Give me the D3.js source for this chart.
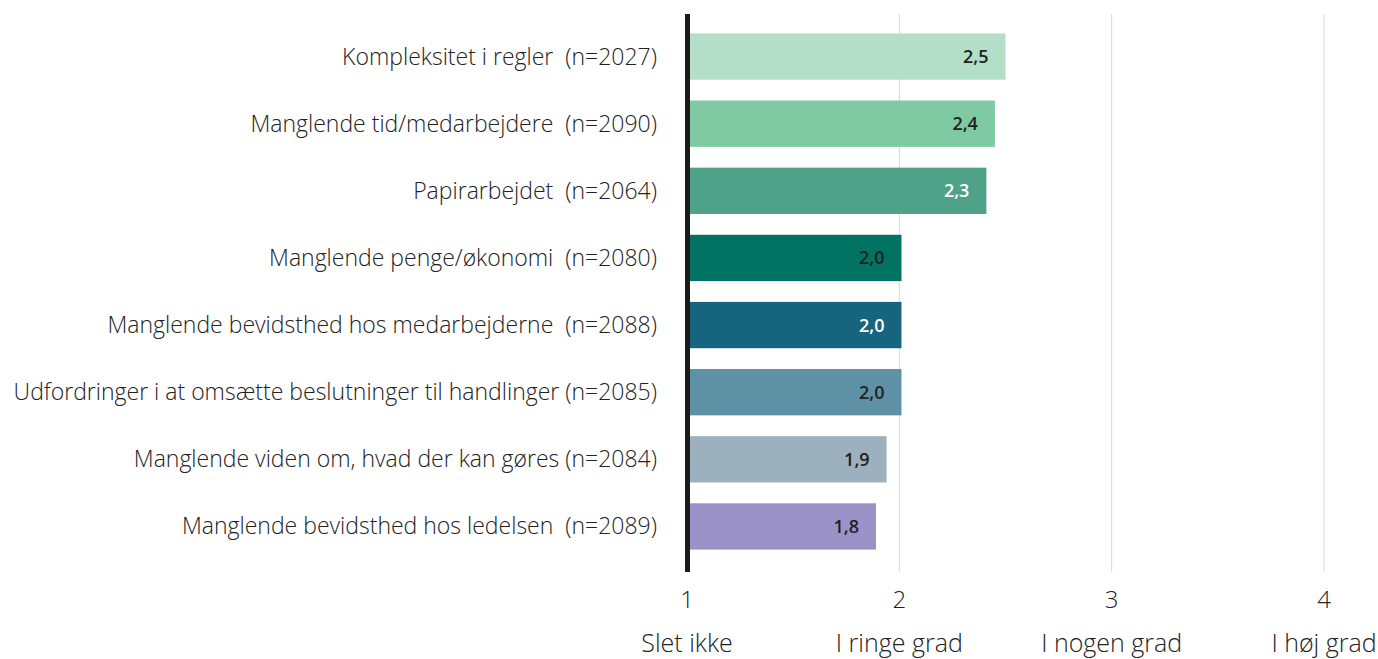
<!DOCTYPE html>
<html>
<head>
<meta charset="utf-8">
<script src="https://cdn.jsdelivr.net/npm/d3@7"></script>
<style>
  body { margin: 0; background: #fff; }
  svg { display: block; font-family: "Open Sans", sans-serif; }
  text { white-space: pre; }
</style>
</head>
<body>
<div id="container"></div>
<script>
const width = 1378, height = 659;

const labels = [
  "Kompleksitet i regler  (n=2027)",
  "Manglende tid/medarbejdere  (n=2090)",
  "Papirarbejdet  (n=2064)",
  "Manglende penge/økonomi  (n=2080)",
  "Manglende bevidsthed hos medarbejderne  (n=2088)",
  "Udfordringer i at omsætte beslutninger til handlinger (n=2085)",
  "Manglende viden om, hvad der kan gøres (n=2084)",
  "Manglende bevidsthed hos ledelsen  (n=2089)"
];
// bar lengths
const values = [2.50, 2.45, 2.41, 2.01, 2.01, 2.01, 1.94, 1.89];
// numbers printed on the bars
const shown = [2.5, 2.4, 2.3, 2.0, 2.0, 2.0, 1.9, 1.8];
const colors = ["#b3dfc8", "#7fcaa3", "#4fa288", "#007363", "#17647e", "#5e91a6", "#9cb0bd", "#9b93c8"];
const labelColors = ["#222", "#222", "#fff", "#222", "#fff", "#222", "#222", "#222"];
const ticks = [1, 2, 3, 4];
const tickNames = ["Slet ikke", "I ringe grad", "I nogen grad", "I høj grad"];

const data = labels.map((l, i) => ({label: l, value: values[i], shown: shown[i], color: colors[i], tc: labelColors[i]}));

const margin = {top: 14, left: 687, right: 54, bottom: 88};

const x = d3.scaleLinear()
    .domain([1, 4])
    .range([margin.left, width - margin.right]);

const y = d3.scaleBand()
    .domain(labels)
    .range([23, 560])
    .paddingInner(0.31)
    .paddingOuter(0.155);

const fmt = v => d3.format(".1f")(v).replace(".", ",");

const svg = d3.select("#container").append("svg")
    .attr("width", width)
    .attr("height", height);

// gridlines
svg.append("g")
    .selectAll("line")
    .data(ticks.slice(1))
    .join("line")
    .attr("x1", d => x(d)).attr("x2", d => x(d))
    .attr("y1", margin.top).attr("y2", height - margin.bottom + 1)
    .attr("stroke", "#d9d9d9")
    .attr("stroke-width", 1);

// bars
svg.append("g")
    .selectAll("rect")
    .data(data)
    .join("rect")
    .attr("x", x(1))
    .attr("y", d => y(d.label))
    .attr("width", d => x(d.value) - x(1))
    .attr("height", y.bandwidth())
    .attr("fill", d => d.color);

// value labels
svg.append("g")
    .selectAll("text")
    .data(data)
    .join("text")
    .attr("x", d => x(d.value) - 17)
    .attr("y", d => y(d.label) + y.bandwidth() / 2)
    .attr("dy", "0.36em")
    .attr("text-anchor", "end")
    .attr("font-size", 18)
    .attr("font-weight", 600)
    .attr("fill", d => d.tc)
    .text(d => fmt(d.shown));

// category labels
svg.append("g")
    .selectAll("text")
    .data(data)
    .join("text")
    .attr("x", margin.left - 30)
    .attr("y", d => y(d.label) + y.bandwidth() / 2)
    .attr("dy", "0.35em")
    .attr("text-anchor", "end")
    .attr("font-size", 23)
    .attr("font-weight", 300)
    .attr("fill", "#222")
    .text(d => d.label);

// axis line
svg.append("line")
    .attr("x1", x(1) + 0.5).attr("x2", x(1) + 0.5)
    .attr("y1", margin.top).attr("y2", height - margin.bottom + 1)
    .attr("stroke", "#1a1a1a")
    .attr("stroke-width", 5);

// tick numbers
svg.append("g")
    .selectAll("text")
    .data(ticks)
    .join("text")
    .attr("x", d => x(d))
    .attr("y", 608)
    .attr("text-anchor", "middle")
    .attr("font-size", 24)
    .attr("font-weight", 300)
    .attr("fill", "#222")
    .text(d => d);

// tick names
svg.append("g")
    .selectAll("text")
    .data(ticks)
    .join("text")
    .attr("x", d => x(d))
    .attr("y", 652)
    .attr("text-anchor", "middle")
    .attr("font-size", 25)
    .attr("font-weight", 300)
    .attr("fill", "#222")
    .text((d, i) => tickNames[i]);
</script>
</body>
</html>
